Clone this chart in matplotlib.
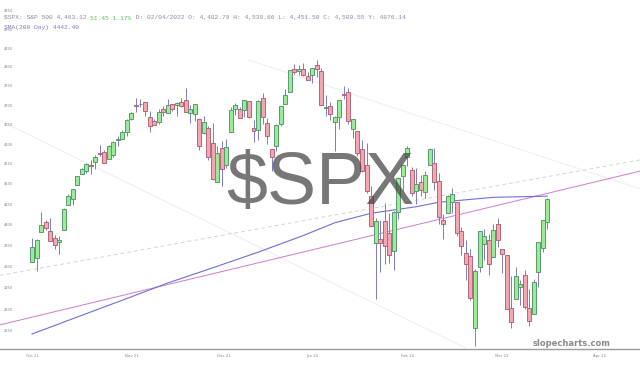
import matplotlib
matplotlib.use("Agg")
import matplotlib.pyplot as plt
from matplotlib.ticker import FixedLocator, NullLocator

# ---------------- data (S&P 500 daily, 2021-10-05 .. 2022-03-18) ----------------
dates = ["2021-10-05","2021-10-06","2021-10-07","2021-10-08","2021-10-11","2021-10-12","2021-10-13","2021-10-14","2021-10-15",
         "2021-10-18","2021-10-19","2021-10-20","2021-10-21","2021-10-22","2021-10-25","2021-10-26","2021-10-27","2021-10-28","2021-10-29",
         "2021-11-01","2021-11-02","2021-11-03","2021-11-04","2021-11-05","2021-11-08","2021-11-09","2021-11-10","2021-11-11","2021-11-12",
         "2021-11-15","2021-11-16","2021-11-17","2021-11-18","2021-11-19","2021-11-22","2021-11-23","2021-11-24","2021-11-26",
         "2021-11-29","2021-11-30","2021-12-01","2021-12-02","2021-12-03","2021-12-06","2021-12-07","2021-12-08","2021-12-09","2021-12-10",
         "2021-12-13","2021-12-14","2021-12-15","2021-12-16","2021-12-17","2021-12-20","2021-12-21","2021-12-22","2021-12-23",
         "2021-12-27","2021-12-28","2021-12-29","2021-12-30","2021-12-31","2022-01-03","2022-01-04","2022-01-05","2022-01-06","2022-01-07",
         "2022-01-10","2022-01-11","2022-01-12","2022-01-13","2022-01-14","2022-01-18","2022-01-19","2022-01-20","2022-01-21",
         "2022-01-24","2022-01-25","2022-01-26","2022-01-27","2022-01-28","2022-01-31","2022-02-01","2022-02-02","2022-02-03","2022-02-04",
         "2022-02-07","2022-02-08","2022-02-09","2022-02-10","2022-02-11","2022-02-14","2022-02-15","2022-02-16","2022-02-17","2022-02-18",
         "2022-02-22","2022-02-23","2022-02-24","2022-02-25","2022-02-28","2022-03-01","2022-03-02","2022-03-03","2022-03-04",
         "2022-03-07","2022-03-08","2022-03-09","2022-03-10","2022-03-11","2022-03-14","2022-03-15","2022-03-16","2022-03-17","2022-03-18"]

opens = [4309.9,4319.6,4383.7,4406.5,4385.4,4368.3,4358.0,4386.8,4447.7,
         4463.7,4497.3,4524.4,4532.2,4546.1,4553.7,4578.7,4580.2,4562.8,4572.9,
         4610.6,4613.3,4630.7,4662.9,4699.3,4701.5,4707.3,4670.3,4659.4,4655.2,
         4689.3,4679.4,4701.5,4700.7,4708.4,4712.0,4678.5,4675.8,4664.6,
         4628.8,4640.3,4602.8,4504.7,4589.5,4548.4,4632.0,4690.9,4691.0,4687.6,
         4710.3,4642.0,4636.5,4719.1,4652.5,4587.9,4595.0,4650.4,4704.0,
         4734.0,4795.5,4788.6,4794.2,4775.2,4778.1,4804.5,4788.0,4693.4,4697.7,
         4655.3,4669.1,4728.6,4733.6,4638.0,4632.2,4588.0,4547.4,4471.4,
         4356.3,4366.6,4408.4,4380.6,4336.2,4431.8,4519.6,4566.4,4535.4,4482.8,
         4505.8,4480.0,4547.0,4553.2,4506.3,4412.6,4429.3,4455.8,4456.1,4384.6,
         4332.7,4324.9,4155.8,4298.4,4354.2,4363.1,4322.6,4401.3,4342.1,
         4327.0,4202.7,4223.1,4252.6,4279.5,4202.8,4188.8,4288.1,4345.1,4407.3]

highs = [4369.2,4365.6,4430.0,4412.0,4415.9,4374.9,4372.9,4439.7,4475.8,
         4488.8,4520.4,4540.9,4551.4,4559.7,4572.6,4598.5,4584.6,4597.6,4608.1,
         4620.3,4635.2,4663.5,4683.0,4718.5,4714.9,4708.5,4684.9,4664.6,4688.5,
         4697.4,4714.9,4701.5,4708.8,4717.8,4743.8,4699.4,4702.9,4664.6,
         4672.9,4646.0,4652.9,4595.5,4608.0,4612.6,4694.0,4705.1,4695.3,4713.6,
         4710.3,4660.5,4712.6,4732.0,4666.7,4587.9,4651.1,4697.7,4740.7,
         4791.5,4807.0,4804.1,4808.9,4786.8,4796.6,4818.6,4797.7,4725.0,4708.0,
         4673.0,4714.1,4749.0,4744.1,4665.1,4632.2,4611.6,4602.1,4494.5,
         4417.4,4411.0,4453.2,4428.7,4432.7,4516.9,4550.5,4595.3,4542.9,4539.7,
         4521.9,4531.3,4590.0,4588.9,4526.3,4426.2,4472.8,4489.6,4456.1,4394.6,
         4362.1,4341.5,4294.7,4385.3,4388.8,4378.5,4401.5,4416.8,4342.1,
         4327.0,4276.9,4299.4,4268.3,4291.0,4247.6,4271.1,4358.0,4412.7,4465.4]

lows = [4309.9,4290.5,4383.7,4386.2,4360.6,4342.1,4329.9,4386.8,4447.7,
        4447.5,4496.4,4524.4,4526.9,4524.0,4537.4,4569.2,4551.7,4562.8,4567.6,
        4595.1,4613.3,4621.2,4662.6,4681.3,4694.4,4670.9,4630.9,4648.3,4650.8,
        4672.9,4679.4,4684.4,4672.8,4694.2,4682.2,4652.7,4659.9,4585.4,
        4625.3,4560.0,4510.3,4504.7,4495.1,4540.5,4632.0,4674.5,4666.0,4670.2,
        4667.6,4606.5,4611.2,4651.9,4600.2,4531.1,4583.2,4645.5,4704.0,
        4734.0,4780.0,4778.1,4775.3,4765.8,4758.2,4774.3,4699.4,4671.3,4662.7,
        4582.2,4638.3,4716.1,4650.3,4614.8,4568.7,4530.2,4478.0,4395.3,
        4222.6,4287.1,4304.8,4309.5,4292.5,4414.0,4483.5,4544.3,4470.4,4451.5,
        4471.5,4465.4,4547.0,4484.3,4401.4,4364.8,4429.3,4429.7,4373.8,4327.2,
        4267.1,4221.5,4114.7,4286.8,4315.1,4279.5,4322.6,4345.6,4285.0,
        4199.9,4157.9,4223.1,4209.8,4200.5,4161.7,4187.9,4252.0,4335.7,4390.6]

closes = [4345.7,4363.6,4399.8,4391.3,4361.2,4350.7,4363.8,4438.3,4471.4,
          4486.5,4519.6,4536.2,4549.8,4544.9,4566.5,4574.8,4551.7,4596.4,4605.4,
          4613.7,4630.7,4660.6,4680.1,4697.5,4701.7,4685.3,4646.7,4649.3,4682.9,
          4682.8,4700.9,4688.7,4704.5,4698.0,4682.9,4690.7,4701.5,4594.6,
          4655.3,4567.0,4513.0,4577.1,4538.4,4591.7,4686.8,4701.2,4667.5,4712.0,
          4669.0,4634.1,4709.9,4668.7,4620.6,4568.0,4649.2,4697.0,4725.8,
          4791.2,4786.4,4793.1,4778.7,4766.2,4796.6,4793.5,4700.6,4696.1,4677.0,
          4670.3,4713.1,4726.4,4659.0,4662.9,4577.1,4532.8,4482.7,4397.9,
          4410.1,4356.5,4349.9,4326.5,4431.9,4515.6,4546.5,4589.4,4477.4,4500.5,
          4483.9,4521.5,4587.2,4504.1,4418.6,4401.7,4471.1,4475.0,4380.3,4348.9,
          4304.8,4225.5,4288.7,4384.7,4373.9,4306.3,4386.5,4363.5,4328.9,
          4201.1,4170.7,4277.9,4259.5,4204.3,4173.1,4262.5,4357.9,4411.7,4463.1]

# 200-day simple moving average, read at sampled candles (candle index, value)
sma_idx = [0, 10, 20, 30, 40, 50, 60, 67, 75, 85, 90, 102, 114]
sma_val = [4143, 4182, 4221, 4261, 4297, 4334, 4374, 4405, 4428, 4444, 4455, 4467, 4470]

# trendlines (candle index, price) end points
pink_idx, pink_val = [-7.1, 134.5], [4164, 4532]
dash_idx, dash_val = [-7.1, 134.5], [4279, 4560]
faint_a_idx, faint_a_val = [-7.1, 95.8], [4660, 4112]
faint_b_idx, faint_b_val = [48.0, 134.5], [4818, 4488]

# axis labels
month_pos = [0, 22, 42.5, 62, 83, 104, 125.5]
month_lab = ["Oct 21", "Nov 21", "Dec 21", "Jan 22", "Feb 22", "Mar 22", "Apr 22"]
price_ticks = [4150, 4200, 4250, 4300, 4350, 4400, 4450, 4500, 4550, 4600,
               4650, 4700, 4750, 4800, 4850, 4900, 4950]

# ---------------- figure ----------------
fig = plt.figure(figsize=(6.4, 3.65), dpi=100)
fig.patch.set_facecolor("white")
ax = fig.add_axes([0, 16 / 365, 1, 349 / 365])
ax.set_facecolor("white")
ax.set_yscale("log")
ax.set_xlim(-7.08, 134.5)
ax.set_ylim(4109, 4980)

# faint background lines
ax.plot(faint_a_idx, faint_a_val, color="#efefef", lw=0.8, zorder=1)
ax.plot(faint_b_idx, faint_b_val, color="#efefef", lw=0.8, zorder=1)
ax.plot(dash_idx, dash_val, color="#dccfd6", lw=0.7, ls=(0, (4, 3)), zorder=1)
ax.plot(pink_idx, pink_val, color="#d27ad2", lw=0.7, zorder=1.5)
ax.plot(sma_idx, sma_val, color="#6f6fd6", lw=0.8, zorder=1.6)

# candles
x = list(range(len(opens)))
up = [c >= o for o, c in zip(opens, closes)]
ax.vlines(x, lows, highs, color="#7c7cc0", lw=0.7, zorder=2)
bottoms = [min(o, c) for o, c in zip(opens, closes)]
heights = [abs(c - o) for o, c in zip(opens, closes)]
faces = ["#98ec98" if u else "#f4a6b2" for u in up]
edges = ["#5a9a6e" if u else "#b06878" for u in up]
ax.bar(x, heights, bottom=bottoms, width=0.88, color=faces, edgecolor=edges,
       linewidth=0.7, zorder=3)

# axes styling
for s in ["top", "left", "right"]:
    ax.spines[s].set_visible(False)
ax.spines["bottom"].set_color("#9a9a9a")
ax.spines["bottom"].set_linewidth(1.0)

ax.xaxis.set_major_locator(FixedLocator(month_pos))
ax.set_xticklabels(month_lab)
ax.tick_params(axis="x", length=0, labelsize=2.8, labelcolor="#8888a0", pad=3.5)

ax.yaxis.set_major_locator(FixedLocator(price_ticks))
ax.yaxis.set_minor_locator(NullLocator())
ax.set_yticklabels([str(v) for v in price_ticks])
ax.tick_params(axis="y", which="both", length=0, labelsize=2.6, labelcolor="#8888a0", pad=-3)
for lab in ax.get_yticklabels():
    lab.set_horizontalalignment("left")

# watermark
ax.text(0.5, 0.47, "\\$SPX", transform=ax.transAxes, ha="center", va="center",
        fontsize=53, family="Liberation Sans", color="#404040", alpha=0.71, zorder=5)

# slopecharts
fig.text(572 / 640, 1 - 343 / 365, "slopecharts.com", ha="center", va="center",
         fontsize=6, fontweight="bold", color="#8a8a8a", family="DejaVu Sans")

# header (monospace, pieces placed by character count)
hdr_parts = [("\\$SPX: S&P 500 4,463.12 ", "#8a8aa2"),
             ("51.45 1.17%", "#5cb85c"),
             (" D: 02/04/2022 O: 4,482.79 H: 4,539.66 L: 4,451.50 C: 4,500.55 Y: 4876.14", "#8a8aa2")]
fs = 4.5
cw = fs * 0.6 / 72 * 100  # pixel width per char
xp = 4.0
for txt, col in hdr_parts:
    fig.text(xp / 640, 1 - 18 / 365, txt, ha="left", va="center", fontsize=fs,
             family="Liberation Mono", color=col)
    n = len(txt.replace("\\$", "$"))
    xp += n * cw
fig.text(4 / 640, 1 - 28 / 365, "SMA(200 Day) 4442.40", ha="left", va="center",
         fontsize=fs, family="Liberation Mono", color="#7f7fb8")

fig.savefig("out.png", dpi=100, facecolor="white")
